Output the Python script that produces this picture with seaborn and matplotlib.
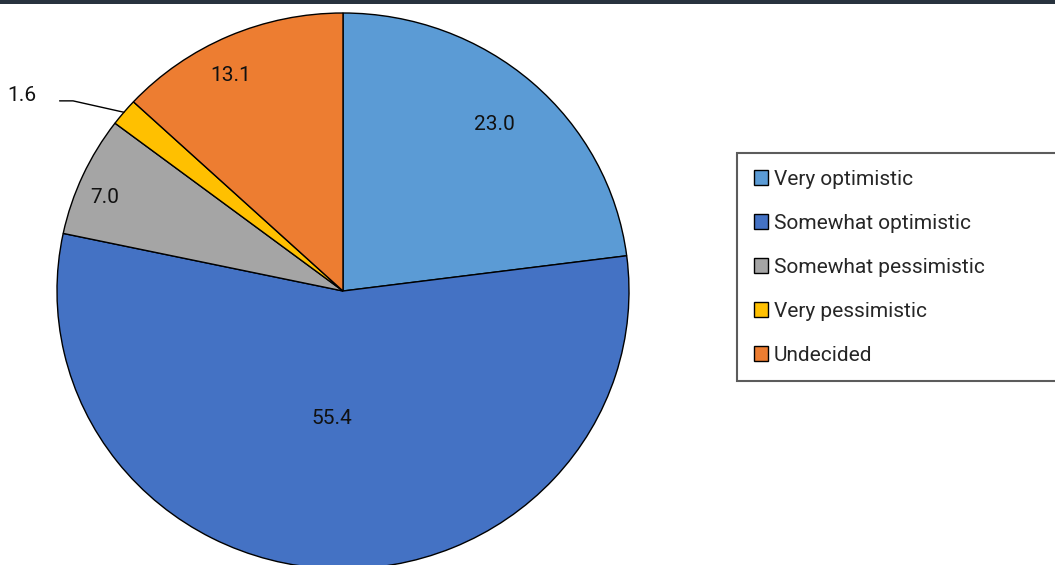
import numpy as np
import matplotlib
matplotlib.use("Agg")
import matplotlib.pyplot as plt
from matplotlib.patches import Rectangle, Patch
import seaborn as sns

categories = ["Very optimistic", "Somewhat optimistic", "Somewhat pessimistic",
              "Very pessimistic", "Undecided"]
values = [23.0, 55.4, 7.0, 1.6, 13.1]
value_labels = ["23.0", "55.4", "7.0", "1.6", "13.1"]
colors = ["#5B9BD5", "#4472C4", "#A5A5A5", "#FFC000", "#ED7D31"]

sns.set_theme(style="white")
plt.rcParams['font.family'] = ['Roboto', 'Liberation Sans', 'DejaVu Sans']

W, H = 1055, 565
fig = plt.figure(figsize=(W / 100, H / 100), dpi=100)
fig.patch.set_facecolor("white")

# pie axes: center (343, 291) px, rx 286, ry 278
cx, cy, rx, ry = 343, 291, 286, 278
ax = fig.add_axes([(cx - rx) / W, (H - cy - ry) / H, 2 * rx / W, 2 * ry / H])
wedges, _ = ax.pie(values, colors=colors, startangle=90, counterclock=False,
                   wedgeprops=dict(edgecolor="black", linewidth=1.0),
                   radius=1.0)
ax.set_aspect("auto")
ax.set_xlim(-1, 1)
ax.set_ylim(-1, 1)
ax.axis("off")
for w in wedges:
    w.set_clip_on(False)

label_r = [0.80, 0.46, 0.90, None, 0.87]
label_da = [0.0, -2.5, 2.5, 0.0, 3.2]
for w, lab, r, da in zip(wedges, value_labels, label_r, label_da):
    mid = np.deg2rad((w.theta1 + w.theta2) / 2 + da)
    if r is not None:
        ax.text(r * np.cos(mid), r * np.sin(mid), lab, ha="center", va="center",
                fontsize=15, color="#111111")
    else:
        ex, ey = np.cos(mid), np.sin(mid)
        elbow = (ex - 0.178, ey + 0.041)
        start = (elbow[0] - 0.047, elbow[1])
        ax.plot([start[0], elbow[0], ex], [start[1], elbow[1], ey],
                color="black", linewidth=1.0, clip_on=False)
        ax.text(start[0] - 0.133, start[1] + 0.02, lab, ha="center", va="center",
                fontsize=15, color="#111111")

# dark top bar
fig.add_artist(Rectangle((0, 1 - 4 / H), 1, 4 / H, transform=fig.transFigure,
                         facecolor="#28323e", edgecolor="none"))

handles = [Patch(facecolor=c, edgecolor="black", linewidth=1.0) for c in colors]
leg = fig.legend(handles, categories, loc="upper left",
                 bbox_to_anchor=(737 / W, 0, 330 / W, 1 - 153 / H),
                 bbox_transform=fig.transFigure, mode="expand",
                 fontsize=15, frameon=True, fancybox=False,
                 handlelength=0.68, handleheight=0.68, handletextpad=0.3,
                 labelspacing=1.2, borderpad=0.8, borderaxespad=0)
leg.get_frame().set_edgecolor("#333333")
leg.get_frame().set_linewidth(1.5)

fig.savefig("out.png", dpi=100, facecolor="white")
